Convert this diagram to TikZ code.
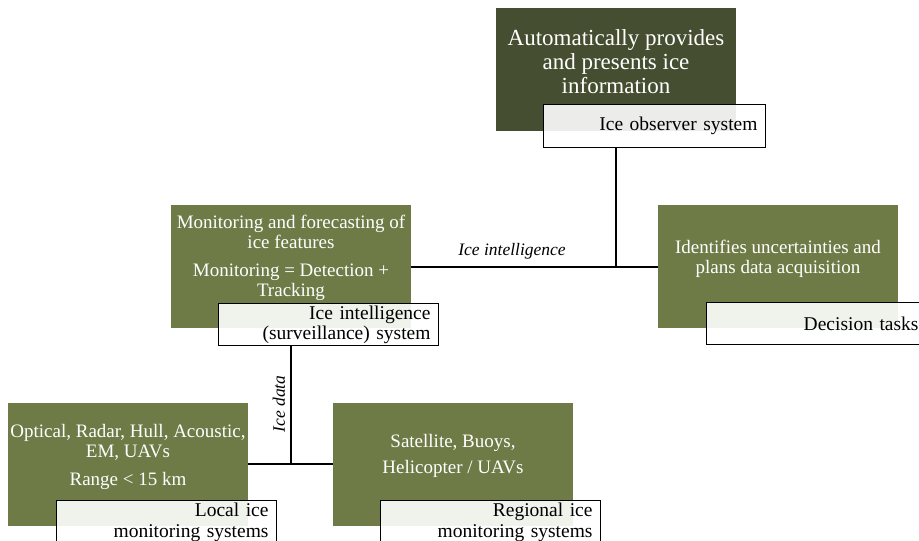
\documentclass[tikz,border=0pt]{standalone}
\usepackage{fontspec}
\setmainfont{Liberation Serif}
\definecolor{darkg}{HTML}{454E30}
\definecolor{midg}{HTML}{6E7B46}
\begin{document}
\begin{tikzpicture}[x=1pt,y=-1pt,
  gbox/.style={rectangle, inner sep=0pt, anchor=north west, minimum width=240pt, minimum height=123pt, fill=midg},
  gtext/.style={text=white, align=center, inner sep=0pt, font=\fontsize{19}{20}\selectfont},
  lbox/.style={rectangle, draw=black, line width=1pt, fill=white, fill opacity=0.9, text opacity=1,
    anchor=north west, inner xsep=8pt, inner ysep=0pt, text width=204pt, minimum height=42pt,
    align=right, font=\fontsize{19.5}{21}\selectfont},
  conn/.style={draw=black, line width=1.2pt},
  clabel/.style={font=\fontsize{17.5}{20}\selectfont\itshape, inner sep=1pt}]
\useasboundingbox (0,0) rectangle (919,541);
% boxes
\node[gbox, fill=darkg, minimum width=240pt] (top) at (496,8) {};
\node[gbox] (mid) at (171,205) {};
\node[gbox] (right) at (658,205) {};
\node[gbox] (local) at (8,403) {};
\node[gbox] (regional) at (333,403) {};
% texts
\node[gtext, font=\fontsize{23}{24}\selectfont] (toptext) at (616,62) {Automatically provides\\and presents ice\\information};
\node[gtext] (midtext) at (291,258) {Monitoring and forecasting of\\ice features\\[8pt]Monitoring = Detection +\\Tracking};
\node[gtext] (righttext) at (778,259) {Identifies uncertainties and\\plans data acquisition};
\node[gtext] (localtext) at (128,457) {Optical, Radar, Hull, Acoustic,\\EM, UAVs\\[8pt]Range < 15 km};
\node[gtext, font=\fontsize{19}{26}\selectfont] (regtext) at (453,456) {Satellite, Buoys,\\Helicopter / UAVs};
% label boxes
\node[lbox, text width=206pt, minimum height=43pt, font=\fontsize{19.5}{20}\selectfont] (toplbl) at (543,104) {Ice observer system};
\node[lbox, font=\fontsize{19.5}{20}\selectfont] (midlbl) at (218,303) {Ice intelligence\\(surveillance) system};
\node[lbox] (rightlbl) at (706,302) {Decision tasks};
\node[lbox, minimum height=44pt] (locallbl) at (56,500) {Local ice\\monitoring systems};
\node[lbox, minimum height=44pt] (reglbl) at (380,500) {Regional ice\\monitoring systems};
% connectors
\coordinate (j1) at (616,267);
\coordinate (j2) at (291,464);
\draw[conn] (toplbl.south -| j1) -- (j1);
\draw[conn] (mid.east |- j1) -- (right.west |- j1);
\draw[conn] (midlbl.south -| j2) -- (j2);
\draw[conn] (local.east |- j2) -- (regional.west |- j2);
\node[clabel] (lbl1) at (512,251) {Ice intelligence};
\node[clabel, rotate=90] (lbl2) at (279,404) {Ice data};
\end{tikzpicture}
\end{document}
